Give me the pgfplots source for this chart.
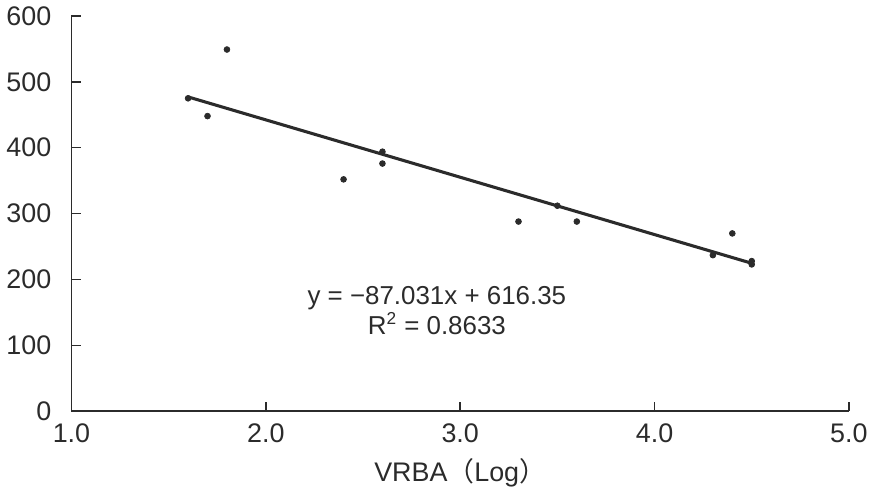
\documentclass[border=0pt]{standalone}
\usepackage{pgfplots}
\pgfplotsset{compat=1.18}
\usepackage{fontspec}
\setmainfont{Liberation Sans}
\newfontfamily\cjk{Noto Sans CJK JP}
\definecolor{ink}{HTML}{2B2B2B}

\begin{document}
\begin{tikzpicture}
\begin{axis}[
  scale only axis, width=405pt, height=206pt,
  xmin=1, xmax=5, ymin=0, ymax=600,
  axis lines*=left, axis line style={ink, line width=0.9pt},
  xtick={1,2,3,4,5}, ytick={0,100,...,600},
  xticklabel style={yshift=-3pt, /pgf/number format/.cd, fixed, fixed zerofill, precision=1},
  /pgf/number format/assume math mode=true,
  tick style={ink, line width=0.8pt}, tick align=inside, major tick length=5pt,
  tick label style={font=\fontsize{14}{16}\selectfont, text=ink},
  xlabel={VRBA{\cjk （}Log{\cjk ）}}, xlabel style={font=\fontsize{14}{16}\selectfont, text=ink, yshift=-1pt},
  yticklabel style={xshift=-7pt},
  clip=false]
\addplot[only marks, mark=*, mark size=1.5pt, ink] coordinates {
  (1.6,475) (1.7,448) (1.8,549) (2.4,352) (2.6,394) (2.6,376)
  (3.3,288) (3.5,312) (3.6,288) (4.3,237) (4.4,270) (4.5,228) (4.5,223)};
\addplot[ink, line width=1.6pt] coordinates {(1.6,477.1) (4.5,224.7)};
\node[align=center, text=ink, font=\fontsize{13.5}{16}\selectfont] at (axis cs:2.88,153)
  {y = −87.031x + 616.35\\R\textsuperscript{\fontsize{9}{9}\selectfont 2} = 0.8633};
\end{axis}
\end{tikzpicture}
\end{document}
